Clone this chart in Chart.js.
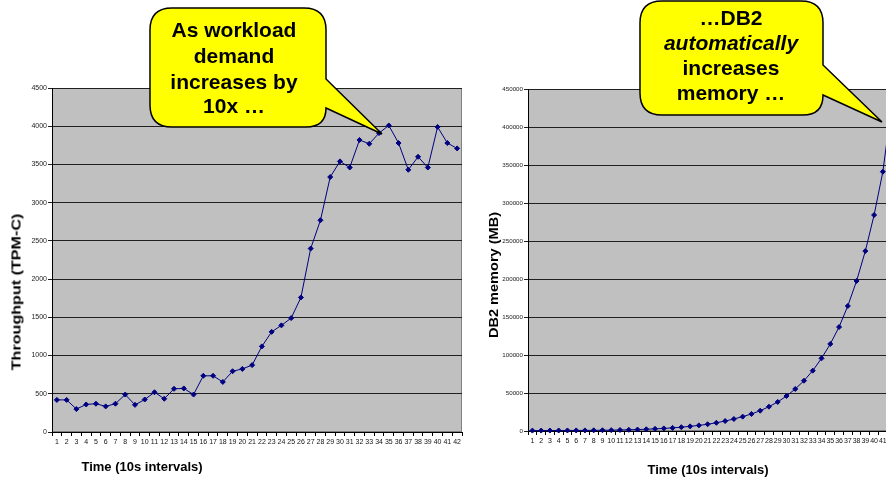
<!DOCTYPE html>
<html>
<head>
<meta charset="utf-8">
<script src="https://cdn.jsdelivr.net/npm/chart.js@4"></script>
<style>
  html, body { margin: 0; padding: 0; background: #fff; }
  body { width: 886px; height: 482px; overflow: hidden; position: relative; font-family: Arial, "Liberation Sans", sans-serif; }
  .box { position: absolute; top: 0; height: 482px; }
  .title { position: absolute; font-weight: bold; font-size: 13px; color: #000; white-space: nowrap; transform: translate(-50%, -50%); }
  svg { position: absolute; left: 0; top: 0; }
</style>
</head>
<body>
<div class="box" style="left:0; width:470px;"><canvas id="leftChart" width="470" height="482"></canvas></div>
<div class="box" style="left:470px; width:440px;"><canvas id="rightChart" width="440" height="482"></canvas></div>

<div class="title" style="left:16px; top:292px; transform: translate(-50%, -50%) rotate(-90deg) scaleX(1.24);">Throughput (TPM-C)</div>
<div class="title" style="left:142px; top:466px;">Time (10s intervals)</div>
<div class="title" style="left:493px; top:275px; transform: translate(-50%, -50%) rotate(-90deg) scaleX(1.12);">DB2 memory (MB)</div>
<div class="title" style="left:708px; top:469px;">Time (10s intervals)</div>

<svg width="886" height="482" font-family="Arial, 'Liberation Sans', sans-serif" font-weight="bold" font-size="21">
  <path d="M172 8 H304 Q326 8 326 30 V79 L382 134 L326 108 Q326 127 306 127 H172 Q150 127 150 105 V30 Q150 8 172 8 Z"
        fill="#ffff00" stroke="#000" stroke-width="1.5"/>
  <text x="234" y="37" text-anchor="middle">As workload</text>
  <text x="234" y="63" text-anchor="middle">demand</text>
  <text x="234" y="89" text-anchor="middle">increases by</text>
  <text x="234" y="113" text-anchor="middle">10x …</text>

  <path d="M662 1 H801 Q823 1 823 23 V65 L882 122 L823 95 Q823 115 803 115 H662 Q640 115 640 93 V23 Q640 1 662 1 Z"
        fill="#ffff00" stroke="#000" stroke-width="1.5"/>
  <text x="731" y="25" text-anchor="middle">…DB2</text>
  <text x="731" y="50" text-anchor="middle" font-style="italic">automatically</text>
  <text x="731" y="75" text-anchor="middle">increases</text>
  <text x="731" y="100" text-anchor="middle">memory …</text>
</svg>

<script>
// Time intervals (x categories)
const intervals = ['1', '2', '3', '4', '5', '6', '7', '8', '9', '10', '11', '12', '13', '14',
  '15', '16', '17', '18', '19', '20', '21', '22', '23', '24', '25', '26', '27', '28',
  '29', '30', '31', '32', '33', '34', '35', '36', '37', '38', '39', '40', '41', '42'];

// Throughput (TPM-C) per interval
const throughput = [420, 420, 300, 360, 370, 335, 370, 490, 355, 425, 520, 435, 565, 570,
  490, 735, 735, 655, 795, 825, 875, 1120, 1310, 1395, 1490, 1760, 2400, 2770,
  3335, 3540, 3460, 3820, 3770, 3910, 4010, 3780, 3430, 3600, 3460, 3990, 3780, 3710];

// DB2 memory (MB) per interval
const memory = [500, 550, 600, 650, 700, 750, 800, 900, 1000, 1150, 1350, 1600, 1900, 2300,
  2800, 3400, 4100, 5000, 6100, 7400, 8900, 10800, 13100, 15800, 18900, 22400, 26700, 32000,
  38200, 46000, 55300, 66200, 79400, 95600, 114500, 136800, 164500, 197400, 236800, 284200, 341200, 428000];

// Y axis ranges
const throughputAxis = { min: 0, max: 4500, step: 500 };
const memoryAxis = { min: 0, max: 450000, step: 50000 };

const FONT = 'Arial, "Liberation Sans", sans-serif';

// Grey plot area with a thin border, Excel style
const plotBg = {
  id: 'plotBg',
  beforeDraw(chart) {
    const { ctx, chartArea: a } = chart;
    ctx.save();
    ctx.fillStyle = '#c0c0c0';
    ctx.fillRect(a.left, a.top, a.right - a.left, a.bottom - a.top);
    ctx.strokeStyle = '#808080';
    ctx.lineWidth = 1;
    ctx.strokeRect(a.left + 0.5, a.top + 0.5, a.right - a.left - 1, a.bottom - a.top - 1);
    ctx.restore();
  }
};

function makeChart(id, values, axis, yWidth, yFontSize, padding) {
  const ctx = document.getElementById(id).getContext('2d');
  return new Chart(ctx, {
    type: 'line',
    data: {
      labels: intervals,
      datasets: [{
        data: values,
        borderColor: '#000080',
        backgroundColor: '#000080',
        borderWidth: 1,
        pointStyle: 'rectRot',
        pointRadius: 2.5,
        pointBorderWidth: 1,
        tension: 0,
        clip: false
      }]
    },
    options: {
      responsive: false,
      animation: false,
      layout: { padding: padding },
      scales: {
        x: {
          type: 'category',
          offset: true,
          afterFit: (s) => { s.height = 20; },
          grid: { offset: true, drawOnChartArea: false, color: '#000', tickLength: 4 },
          border: { color: '#000', width: 1 },
          ticks: { font: { family: FONT, size: 7 }, color: '#111', maxRotation: 0, autoSkip: false, padding: 2 }
        },
        y: {
          min: axis.min,
          max: axis.max,
          afterFit: (s) => { s.width = yWidth; },
          grid: { color: '#202020', tickLength: 4 },
          border: { color: '#000', width: 1 },
          ticks: {
            stepSize: axis.step,
            font: { family: FONT, size: yFontSize },
            color: '#222',
            padding: 1,
            callback: (v) => String(v)
          }
        }
      },
      plugins: {
        legend: { display: false },
        tooltip: { enabled: false }
      }
    },
    plugins: [plotBg]
  });
}

makeChart('leftChart', throughput, throughputAxis, 30, 7, { left: 22, top: 88, right: 8, bottom: 30 });
makeChart('rightChart', memory, memoryAxis, 40, 6.2, { left: 18, top: 89, right: 14, bottom: 31 });
</script>
</body>
</html>
